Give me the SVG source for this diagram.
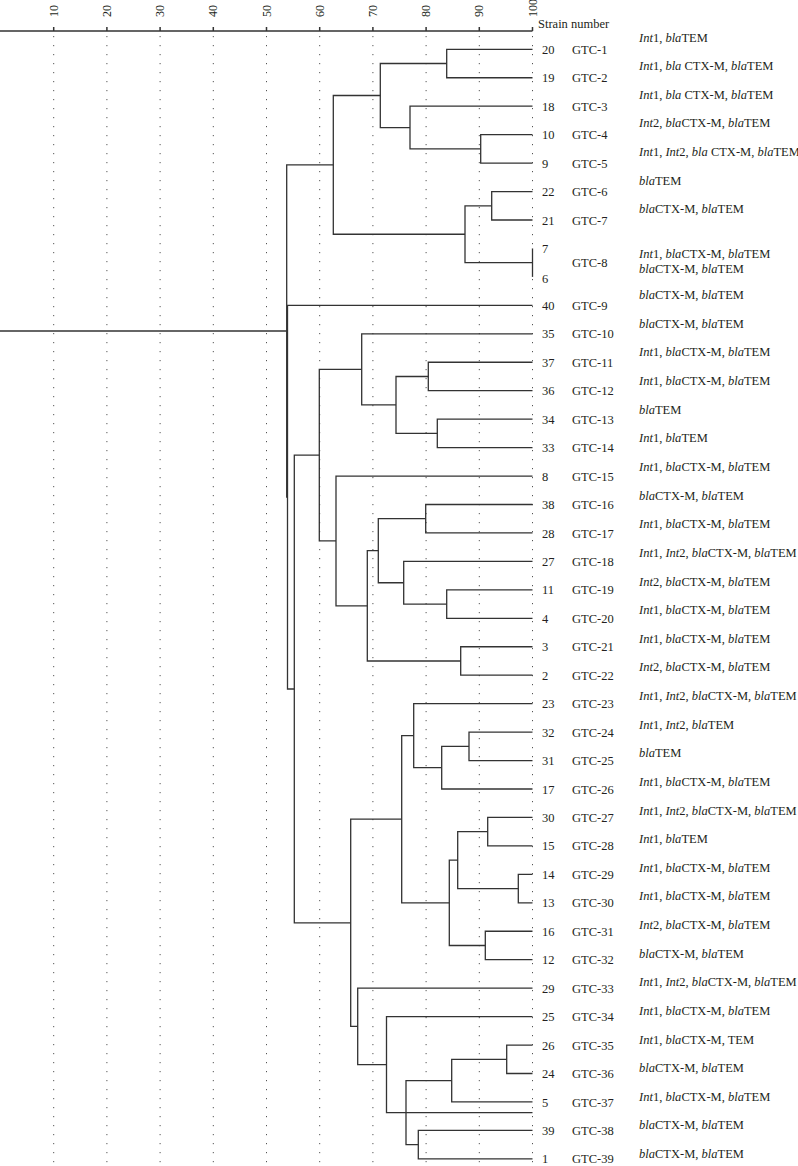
<svg xmlns="http://www.w3.org/2000/svg" width="798" height="1166" viewBox="0 0 798 1166">
<style>
text{font-family:"Liberation Serif","Times New Roman",serif;fill:#231f20;font-size:12.5px}
.ax{font-size:12px}
.i{font-style:italic}
.grid{stroke:#555;stroke-width:1;stroke-dasharray:1.2 7.8;fill:none}
.axis{stroke:#333;stroke-width:1.5;fill:none}
.cn path{stroke:#333;stroke-width:1.3;fill:none}
</style>
<rect width="798" height="1166" fill="#fff"/>
<g id="grid">
<path class="grid" d="M53.7 36V1166M106.9 36V1166M160.1 36V1166M213.3 36V1166M266.5 36V1166M319.7 36V1166M372.9 36V1166M426.1 36V1166M479.3 36V1166M532.5 36V1166"/>
</g>
<g id="axis">
<path class="axis" d="M0 31H532.5M53.7 27V31M106.9 27V31M160.1 27V31M213.3 27V31M266.5 27V31M319.7 27V31M372.9 27V31M426.1 27V31M479.3 27V31M532.5 27V31"/>
<text class="ax" transform="translate(57.7 17) rotate(-90)">10</text>
<text class="ax" transform="translate(110.9 17) rotate(-90)">20</text>
<text class="ax" transform="translate(164.1 17) rotate(-90)">30</text>
<text class="ax" transform="translate(217.3 17) rotate(-90)">40</text>
<text class="ax" transform="translate(270.5 17) rotate(-90)">50</text>
<text class="ax" transform="translate(323.7 17) rotate(-90)">60</text>
<text class="ax" transform="translate(376.9 17) rotate(-90)">70</text>
<text class="ax" transform="translate(430.1 17) rotate(-90)">80</text>
<text class="ax" transform="translate(483.3 17) rotate(-90)">90</text>
<text class="ax" transform="translate(536.5 17) rotate(-90)">100</text>
<text x="538" y="28">Strain number</text>
</g>
<g id="connectors" class="cn">
<path d="M532.5 49.3H446.7V77.75H532.5"/>
<path d="M532.5 134.65H480.7V163.1H532.5"/>
<path d="M532.5 106.2H410V148.9H480.7"/>
<path d="M446.7 63.5H380.3V127.55H410"/>
<path d="M532.5 191.55H491.7V220H532.5"/>
<path d="M532.5 248.45V276.9"/>
<path d="M491.7 205.8H465V262.7H532.5"/>
<path d="M380.3 95.5H333.3V234.25H465"/>
<path d="M532.5 362.25H428.3V390.7H532.5"/>
<path d="M532.5 419.15H437.3V447.6H532.5"/>
<path d="M428.3 376.5H396V433.4H437.3"/>
<path d="M532.5 333.8H361.7V404.9H396"/>
<path d="M532.5 504.5H425.7V532.95H532.5"/>
<path d="M532.5 589.85H446.7V618.3H532.5"/>
<path d="M532.5 561.4H403.7V604.1H446.7"/>
<path d="M425.7 518.7H378.3V582.75H403.7"/>
<path d="M532.5 646.75H460.7V675.2H532.5"/>
<path d="M378.3 550.7H367.3V661H460.7"/>
<path d="M532.5 476.05H336V605.85H367.3"/>
<path d="M361.7 369.4H319.3V540.95H336"/>
<path d="M532.5 732.1H469V760.55H532.5"/>
<path d="M469 746.3H441.7V789H532.5"/>
<path d="M532.5 703.65H413.7V767.65H441.7"/>
<path d="M532.5 817.45H487.7V845.9H532.5"/>
<path d="M532.5 874.35H518.3V902.8H532.5"/>
<path d="M487.7 831.7H457.7V888.6H518.3"/>
<path d="M532.5 931.25H485.3V959.7H532.5"/>
<path d="M457.7 860.15H449.3V945.5H485.3"/>
<path d="M413.7 735.65H401.7V902.8H449.3"/>
<path d="M532.5 1045.05H506.7V1073.5H532.5"/>
<path d="M506.7 1059.3H451.7V1101.95H532.5"/>
<path d="M532.5 1130.4H418.3V1158.85H532.5"/>
<path d="M451.7 1080.6H406V1144.6H418.3"/>
<path d="M532.5 1016.6H386.5V1112.6H532.5"/>
<path d="M532.5 988.15H357.7V1064.6H386.5"/>
<path d="M401.7 819.2H350.7V1026.4H357.7"/>
<path d="M319.3 455.2H294.3V922.8H350.7"/>
<path d="M532.5 305.35H287.5V689H294.3"/>
<path d="M333.3 164.9H286.7V497.2H287.5"/>
<path d="M0 331H286.7"/>
</g>
<g id="GTC-1"><text x="542" y="53.8">20</text><text x="572" y="53.8">GTC-1</text><text x="639" y="41.5"><tspan class="i">Int</tspan>1, <tspan class="i">bla</tspan>TEM</text></g>
<g id="GTC-2"><text x="542" y="82.2">19</text><text x="572" y="82.2">GTC-2</text><text x="639" y="70.1"><tspan class="i">Int</tspan>1, <tspan class="i">bla</tspan> CTX-M, <tspan class="i">bla</tspan>TEM</text></g>
<g id="GTC-3"><text x="542" y="110.7">18</text><text x="572" y="110.7">GTC-3</text><text x="639" y="98.8"><tspan class="i">Int</tspan>1, <tspan class="i">bla</tspan> CTX-M, <tspan class="i">bla</tspan>TEM</text></g>
<g id="GTC-4"><text x="542" y="139.2">10</text><text x="572" y="139.2">GTC-4</text><text x="639" y="127.4"><tspan class="i">Int</tspan>2, <tspan class="i">bla</tspan>CTX-M, <tspan class="i">bla</tspan>TEM</text></g>
<g id="GTC-5"><text x="542" y="167.6">9</text><text x="572" y="167.6">GTC-5</text><text x="639" y="156"><tspan class="i">Int</tspan>1, <tspan class="i">Int</tspan>2, <tspan class="i">bla</tspan> CTX-M, <tspan class="i">bla</tspan>TEM</text></g>
<g id="GTC-6"><text x="542" y="196.1">22</text><text x="572" y="196.1">GTC-6</text><text x="639" y="184.7"><tspan class="i">bla</tspan>TEM</text></g>
<g id="GTC-7"><text x="542" y="224.5">21</text><text x="572" y="224.5">GTC-7</text><text x="639" y="213.3"><tspan class="i">bla</tspan>CTX-M, <tspan class="i">bla</tspan>TEM</text></g>
<g id="GTC-8"><text x="542" y="253">7</text><text x="542" y="283">6</text><text x="572" y="267.2">GTC-8</text><text x="639" y="257.5"><tspan class="i">Int</tspan>1, <tspan class="i">bla</tspan>CTX-M, <tspan class="i">bla</tspan>TEM</text><text x="639" y="272.5"><tspan class="i">bla</tspan>CTX-M, <tspan class="i">bla</tspan>TEM</text></g>
<g id="GTC-9"><text x="542" y="309.9">40</text><text x="572" y="309.9">GTC-9</text><text x="639" y="299.2"><tspan class="i">bla</tspan>CTX-M, <tspan class="i">bla</tspan>TEM</text></g>
<g id="GTC-10"><text x="542" y="338.3">35</text><text x="572" y="338.3">GTC-10</text><text x="639" y="327.8"><tspan class="i">bla</tspan>CTX-M, <tspan class="i">bla</tspan>TEM</text></g>
<g id="GTC-11"><text x="542" y="366.8">37</text><text x="572" y="366.8">GTC-11</text><text x="639" y="356.4"><tspan class="i">Int</tspan>1, <tspan class="i">bla</tspan>CTX-M, <tspan class="i">bla</tspan>TEM</text></g>
<g id="GTC-12"><text x="542" y="395.2">36</text><text x="572" y="395.2">GTC-12</text><text x="639" y="385.1"><tspan class="i">Int</tspan>1, <tspan class="i">bla</tspan>CTX-M, <tspan class="i">bla</tspan>TEM</text></g>
<g id="GTC-13"><text x="542" y="423.7">34</text><text x="572" y="423.7">GTC-13</text><text x="639" y="413.7"><tspan class="i">bla</tspan>TEM</text></g>
<g id="GTC-14"><text x="542" y="452.1">33</text><text x="572" y="452.1">GTC-14</text><text x="639" y="442.3"><tspan class="i">Int</tspan>1, <tspan class="i">bla</tspan>TEM</text></g>
<g id="GTC-15"><text x="542" y="480.6">8</text><text x="572" y="480.6">GTC-15</text><text x="639" y="471"><tspan class="i">Int</tspan>1, <tspan class="i">bla</tspan>CTX-M, <tspan class="i">bla</tspan>TEM</text></g>
<g id="GTC-16"><text x="542" y="509">38</text><text x="572" y="509">GTC-16</text><text x="639" y="499.6"><tspan class="i">bla</tspan>CTX-M, <tspan class="i">bla</tspan>TEM</text></g>
<g id="GTC-17"><text x="542" y="537.5">28</text><text x="572" y="537.5">GTC-17</text><text x="639" y="528.2"><tspan class="i">Int</tspan>1, <tspan class="i">bla</tspan>CTX-M, <tspan class="i">bla</tspan>TEM</text></g>
<g id="GTC-18"><text x="542" y="565.9">27</text><text x="572" y="565.9">GTC-18</text><text x="639" y="556.9"><tspan class="i">Int</tspan>1, <tspan class="i">Int</tspan>2, <tspan class="i">bla</tspan>CTX-M, <tspan class="i">bla</tspan>TEM</text></g>
<g id="GTC-19"><text x="542" y="594.4">11</text><text x="572" y="594.4">GTC-19</text><text x="639" y="585.5"><tspan class="i">Int</tspan>2, <tspan class="i">bla</tspan>CTX-M, <tspan class="i">bla</tspan>TEM</text></g>
<g id="GTC-20"><text x="542" y="622.8">4</text><text x="572" y="622.8">GTC-20</text><text x="639" y="614.1"><tspan class="i">Int</tspan>1, <tspan class="i">bla</tspan>CTX-M, <tspan class="i">bla</tspan>TEM</text></g>
<g id="GTC-21"><text x="542" y="651.3">3</text><text x="572" y="651.3">GTC-21</text><text x="639" y="642.8"><tspan class="i">Int</tspan>1, <tspan class="i">bla</tspan>CTX-M, <tspan class="i">bla</tspan>TEM</text></g>
<g id="GTC-22"><text x="542" y="679.7">2</text><text x="572" y="679.7">GTC-22</text><text x="639" y="671.4"><tspan class="i">Int</tspan>2, <tspan class="i">bla</tspan>CTX-M, <tspan class="i">bla</tspan>TEM</text></g>
<g id="GTC-23"><text x="542" y="708.2">23</text><text x="572" y="708.2">GTC-23</text><text x="639" y="700"><tspan class="i">Int</tspan>1, <tspan class="i">Int</tspan>2, <tspan class="i">bla</tspan>CTX-M, <tspan class="i">bla</tspan>TEM</text></g>
<g id="GTC-24"><text x="542" y="736.6">32</text><text x="572" y="736.6">GTC-24</text><text x="639" y="728.6"><tspan class="i">Int</tspan>1, <tspan class="i">Int</tspan>2, <tspan class="i">bla</tspan>TEM</text></g>
<g id="GTC-25"><text x="542" y="765.1">31</text><text x="572" y="765.1">GTC-25</text><text x="639" y="757.3"><tspan class="i">bla</tspan>TEM</text></g>
<g id="GTC-26"><text x="542" y="793.5">17</text><text x="572" y="793.5">GTC-26</text><text x="639" y="785.9"><tspan class="i">Int</tspan>1, <tspan class="i">bla</tspan>CTX-M, <tspan class="i">bla</tspan>TEM</text></g>
<g id="GTC-27"><text x="542" y="822">30</text><text x="572" y="822">GTC-27</text><text x="639" y="814.5"><tspan class="i">Int</tspan>1, <tspan class="i">Int</tspan>2, <tspan class="i">bla</tspan>CTX-M, <tspan class="i">bla</tspan>TEM</text></g>
<g id="GTC-28"><text x="542" y="850.4">15</text><text x="572" y="850.4">GTC-28</text><text x="639" y="843.1"><tspan class="i">Int</tspan>1, <tspan class="i">bla</tspan>TEM</text></g>
<g id="GTC-29"><text x="542" y="878.9">14</text><text x="572" y="878.9">GTC-29</text><text x="639" y="871.8"><tspan class="i">Int</tspan>1, <tspan class="i">bla</tspan>CTX-M, <tspan class="i">bla</tspan>TEM</text></g>
<g id="GTC-30"><text x="542" y="907.3">13</text><text x="572" y="907.3">GTC-30</text><text x="639" y="900.4"><tspan class="i">Int</tspan>1, <tspan class="i">bla</tspan>CTX-M, <tspan class="i">bla</tspan>TEM</text></g>
<g id="GTC-31"><text x="542" y="935.8">16</text><text x="572" y="935.8">GTC-31</text><text x="639" y="929"><tspan class="i">Int</tspan>2, <tspan class="i">bla</tspan>CTX-M, <tspan class="i">bla</tspan>TEM</text></g>
<g id="GTC-32"><text x="542" y="964.2">12</text><text x="572" y="964.2">GTC-32</text><text x="639" y="957.7"><tspan class="i">bla</tspan>CTX-M, <tspan class="i">bla</tspan>TEM</text></g>
<g id="GTC-33"><text x="542" y="992.7">29</text><text x="572" y="992.7">GTC-33</text><text x="639" y="986.3"><tspan class="i">Int</tspan>1, <tspan class="i">Int</tspan>2, <tspan class="i">bla</tspan>CTX-M, <tspan class="i">bla</tspan>TEM</text></g>
<g id="GTC-34"><text x="542" y="1021.1">25</text><text x="572" y="1021.1">GTC-34</text><text x="639" y="1014.9"><tspan class="i">Int</tspan>1, <tspan class="i">bla</tspan>CTX-M, <tspan class="i">bla</tspan>TEM</text></g>
<g id="GTC-35"><text x="542" y="1049.6">26</text><text x="572" y="1049.6">GTC-35</text><text x="639" y="1043.6"><tspan class="i">Int</tspan>1, <tspan class="i">bla</tspan>CTX-M, TEM</text></g>
<g id="GTC-36"><text x="542" y="1078">24</text><text x="572" y="1078">GTC-36</text><text x="639" y="1072.2"><tspan class="i">bla</tspan>CTX-M, <tspan class="i">bla</tspan>TEM</text></g>
<g id="GTC-37"><text x="542" y="1106.5">5</text><text x="572" y="1106.5">GTC-37</text><text x="639" y="1100.8"><tspan class="i">Int</tspan>1, <tspan class="i">bla</tspan>CTX-M, <tspan class="i">bla</tspan>TEM</text></g>
<g id="GTC-38"><text x="542" y="1134.9">39</text><text x="572" y="1134.9">GTC-38</text><text x="639" y="1129.4"><tspan class="i">bla</tspan>CTX-M, <tspan class="i">bla</tspan>TEM</text></g>
<g id="GTC-39"><text x="542" y="1163.4">1</text><text x="572" y="1163.4">GTC-39</text><text x="639" y="1158.1"><tspan class="i">bla</tspan>CTX-M, <tspan class="i">bla</tspan>TEM</text></g>
</svg>
